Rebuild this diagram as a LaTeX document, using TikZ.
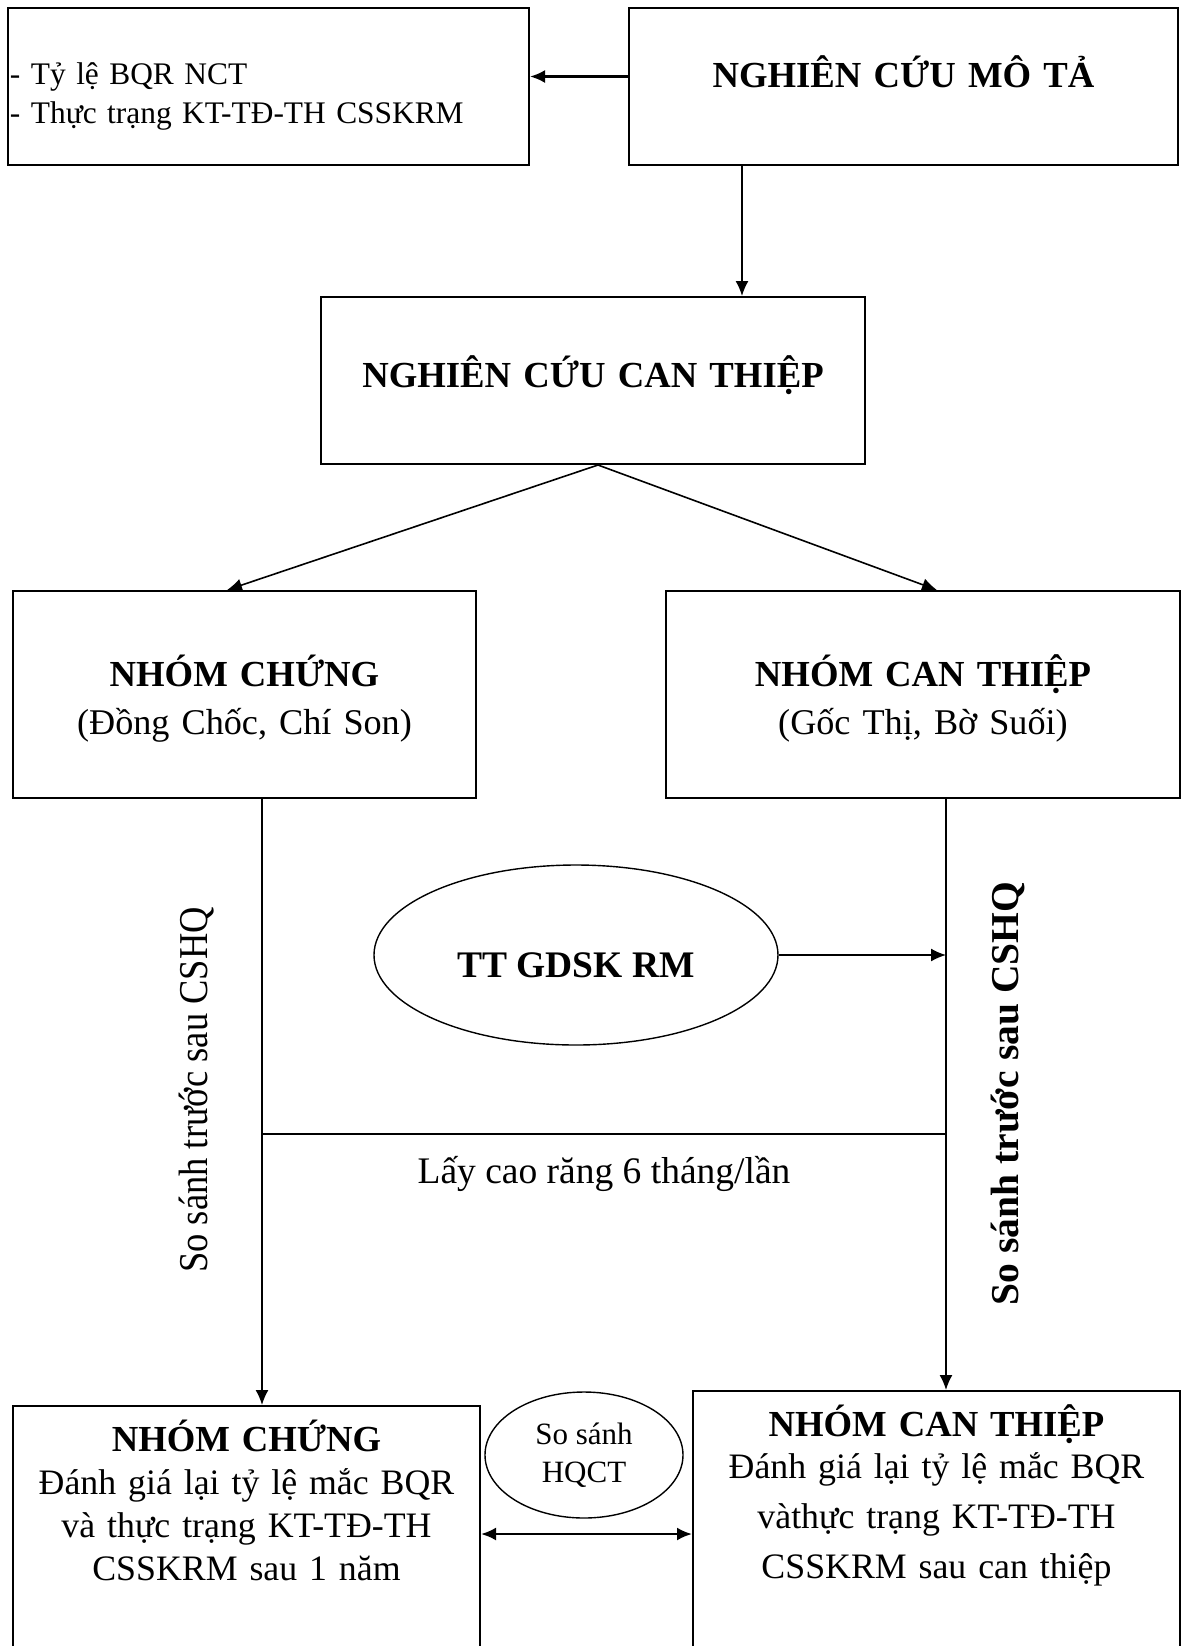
\documentclass[tikz,border=0pt]{standalone}
\usepackage{fontspec}
\setmainfont{Liberation Serif}
\newfontfamily\condensed{Liberation Serif}[FakeStretch=0.89]
\usetikzlibrary{shapes.geometric,arrows.meta}
\newcommand{\largetext}{\fontsize{18.75}{22}\selectfont}
\newcommand{\titletext}{\fontsize{18.35}{22}\selectfont\bfseries}
\newcommand{\smalltext}{\fontsize{15.7}{19.5}\selectfont}
\tikzset{
  box/.style={draw, line width=1pt, anchor=north, inner sep=0pt, align=center},
  oval/.style={draw, ellipse, line width=0.7pt, inner sep=0pt, align=center},
  link/.style={line width=0.8pt},
}
\begin{document}
\begin{tikzpicture}[x=0.5pt, y=-0.5pt, >={Latex[length=7.5pt,width=6.5pt]}]
\useasboundingbox (0,0) rectangle (1183,1646);
\clip (0,0) rectangle (1183,1646);
% hang tren
\node[box, align=left, inner xsep=1pt, text width=258.5pt, text height=38pt, text depth=40.5pt, font=\smalltext] (desc) at (268.5,7) {- Tỷ lệ BQR NCT\\- Thực trạng KT-TĐ-TH CSSKRM};
\node[box, text width=274.5pt, text height=39.5pt, text depth=39pt, font=\titletext] (mota) at (903.5,7) {NGHIÊN CỨU MÔ TẢ};
\node[box, text width=272pt, text height=45pt, text depth=38.5pt, font=\titletext] (canthiep) at (593,296) {NGHIÊN CỨU CAN THIỆP};
% hai nhom
\node[box, text width=231.5pt, text height=47.5pt, text depth=56pt, font={\fontsize{18.1}{24}\selectfont}] (chung) at (244.5,590) {{\titletext NHÓM CHỨNG}\\(Đồng Chốc, Chí Son)};
\node[box, text width=257pt, text height=47.5pt, text depth=56pt, font={\fontsize{18.1}{24}\selectfont}] (nhomct) at (923,590) {{\titletext NHÓM CAN THIỆP}\\(Gốc Thị, Bờ Suối)};
\node[oval, minimum width=202pt, minimum height=90pt, text height=22pt, text depth=0pt, font=\largetext\bfseries] (gdsk) at (576,955) {TT GDSK RM};
\coordinate (jl) at (262,1134);
\coordinate (jr) at (946,1134);
\node[anchor=base, font=\largetext] (laycao) at (604,1183) {Lấy cao răng 6 tháng/lần};
\node[rotate=90, anchor=base, font={\condensed\fontsize{20.5}{24}\selectfont}] (ssl) at (207,1090) {So sánh trước sau CSHQ};
\node[rotate=90, anchor=base, font={\fontsize{19.75}{24}\selectfont\bfseries}] (ssr) at (1018,1093.5) {So sánh trước sau CSHQ};
% ket qua
\node[box, text width=233.5pt, text height=22.5pt, text depth=125pt, font={\fontsize{17.9}{21.5}\selectfont}] (chungkq) at (246.5,1405) {{\titletext NHÓM CHỨNG}\\Đánh giá lại tỷ lệ mắc BQR\\và thực trạng KT-TĐ-TH\\CSSKRM sau 1 năm};
\node[box, text width=243.5pt, text height=22.5pt, text depth=132.5pt, font={\fontsize{17.9}{25}\selectfont}] (ctkq) at (936.5,1390) {{\titletext NHÓM CAN THIỆP}\\[-4pt]Đánh giá lại tỷ lệ mắc BQR\\vàthực trạng KT-TĐ-TH\\CSSKRM sau can thiệp};
\node[oval, minimum width=99pt, minimum height=63pt, font={\fontsize{15.5}{19}\selectfont}] (hqct) at (584,1455) {So sánh\\HQCT};
\coordinate (hq) at (584,1534);
% mui ten
\draw[->, line width=1.2pt] ([yshift=5pt]mota.west) -- ([yshift=5pt]desc.east);
\draw[->, link] ([xshift=-80.75pt]mota.south) -- ([xshift=-80.75pt]mota.south |- canthiep.north);
\draw[->, link] ([xshift=2.5pt]canthiep.south) -- ([xshift=-8.75pt]chung.north);
\draw[->, link] ([xshift=2.5pt]canthiep.south) -- ([xshift=7pt]nhomct.north);
\draw[->, link] (chung.south -| jl) -- (chungkq.north -| jl);
\draw[->, link] (nhomct.south -| jr) -- (ctkq.north -| jr);
\draw[link] (jl) -- (jr);
\draw[->, link] (gdsk.east) -- (gdsk.east -| jr);
\draw[<->, line width=1.2pt] (chungkq.east |- hq) -- (ctkq.west |- hq);
\end{tikzpicture}
\end{document}
